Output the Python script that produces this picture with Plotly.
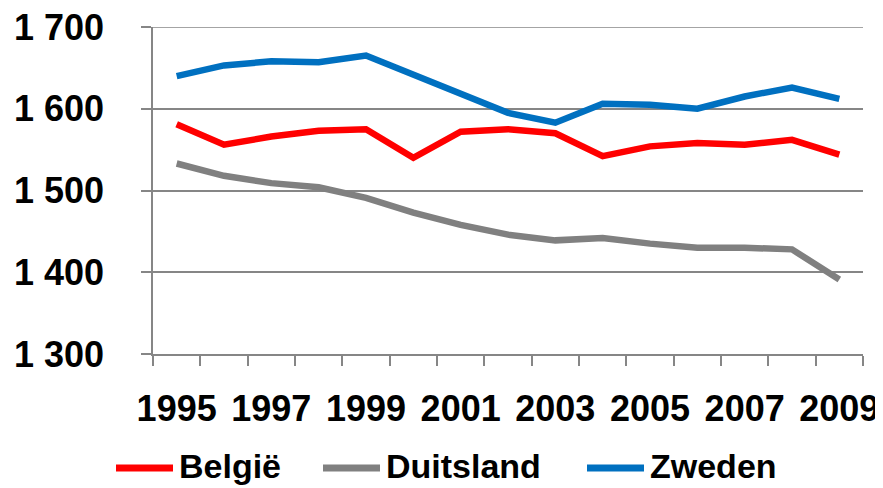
import plotly.graph_objects as go

years = [str(y) for y in range(1995, 2010)]
series_names = ["België", "Duitsland", "Zweden"]
belgie = [1581, 1556, 1566, 1573, 1575, 1540, 1572, 1575, 1570, 1542, 1554, 1558, 1556, 1562, 1544]
duitsland = [1533, 1518, 1509, 1504, 1491, 1473, 1458, 1446, 1439, 1442, 1435, 1430, 1430, 1428, 1391]
zweden = [1640, 1653, 1658, 1657, 1665, 1642, 1619, 1595, 1583, 1606, 1605, 1600, 1615, 1626, 1612]
colors = ["#FF0000", "#808080", "#0070C0"]
y_ticks = [1300, 1400, 1500, 1600, 1700]
y_ticktext = ["1 300", "1 400", "1 500", "1 600", "1 700"]
x_ticktext = [y if int(y) % 2 == 1 else "" for y in years]

OFF = 8  # page body margin
W, H = 883 - OFF, 488 - OFF
L, R, T, B = 153 - OFF, 20, 27 - OFF, 134
pw, ph = W - L - R, H - T - B

fig = go.Figure()
for name, vals, c in zip(series_names, [belgie, duitsland, zweden], colors):
    fig.add_trace(go.Scatter(x=years, y=vals, name=name, mode="lines",
                             line=dict(color=c, width=6.5), showlegend=False))

font = dict(family="Liberation Sans, Arial", size=36, color="#000000", weight="bold")
axis_color = "#868686"

def px2paper(px, py):
    # page pixel coords -> paper coords
    return (px - OFF - L) / pw, (H - B - (py - OFF)) / ph

# top gridline (plotly omits the gridline at the range edge)
fig.add_shape(type="line", xref="paper", yref="y", x0=0, x1=1, y0=y_ticks[-1], y1=y_ticks[-1],
              line=dict(color=axis_color, width=1.5), layer="below")

# custom legend
legend_items = [(116, 173, 177), (323, 380, 384), (587, 644, 648)]
ly = 468
ty = 466
for name, c, (x0, x1, tx) in zip(series_names, colors, legend_items):
    a, yy = px2paper(x0, ly)
    b, _ = px2paper(x1, ly)
    t, tyy = px2paper(tx, ty)
    fig.add_shape(type="line", xref="paper", yref="paper", x0=a, x1=b, y0=yy, y1=yy,
                  line=dict(color=c, width=7))
    fig.add_annotation(xref="paper", yref="paper", x=t, y=tyy, text=name, showarrow=False,
                       xanchor="left", yanchor="middle", font=dict(font, size=34))

fig.update_layout(
    width=W, height=H,
    margin=dict(l=L, r=R, t=T, b=B, autoexpand=False),
    plot_bgcolor="white", paper_bgcolor="white",
    showlegend=False,
    xaxis=dict(type="category", tickvals=years, ticktext=x_ticktext, tickson="boundaries",
               ticks="outside", ticklen=10, tickcolor=axis_color, tickwidth=1.5,
               showline=True, linecolor=axis_color, linewidth=1.5, showgrid=False,
               tickfont=font, ticklabelstandoff=22, tickangle=0, automargin=False,
               ticklabeloverflow="allow", range=[-0.5, 14.5]),
    yaxis=dict(range=[1300, 1700], tickvals=y_ticks, ticktext=y_ticktext,
               ticks="outside", ticklen=10, tickcolor=axis_color, tickwidth=1.5,
               showline=True, linecolor=axis_color, linewidth=1.5,
               showgrid=True, gridcolor=axis_color, gridwidth=1.5, zeroline=False,
               tickfont=font, ticklabelstandoff=30, automargin=False,
               ticklabeloverflow="allow"),
)
fig.write_html("out.html")
